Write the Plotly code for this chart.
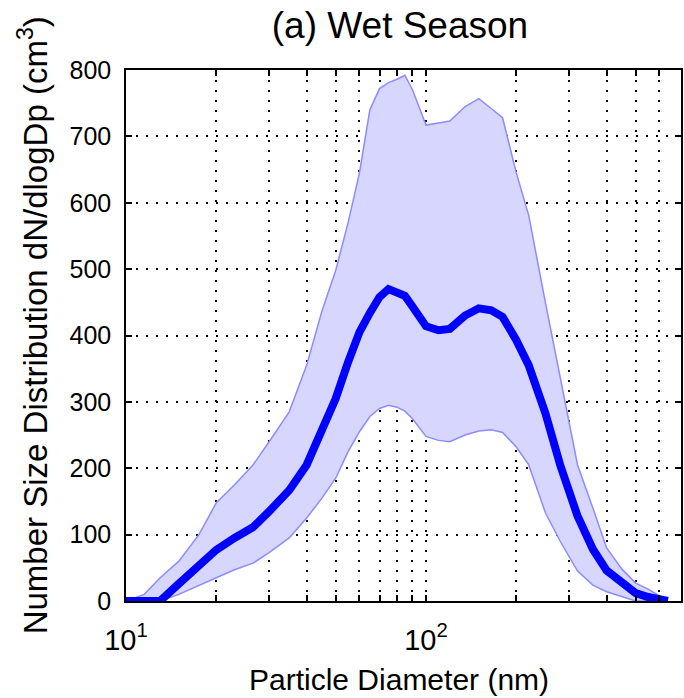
import plotly.graph_objects as go

# Particle diameter bins (nm)
diameter = [10, 11.5, 13, 15, 17.5, 20, 23, 26.5, 30, 35, 40, 45, 50, 55, 60, 65, 70, 75, 80, 85,
            90, 100, 110, 120, 135, 150, 165, 180, 200, 220, 250, 280, 320, 360, 400, 450, 500, 550, 600, 640]

# Mean number size distribution
mean_vals = [0, 0, 0, 26, 52, 77, 95, 111, 135, 167, 205, 255, 305, 360, 405, 434, 458, 470, 466, 460,
             444, 414, 408, 410, 430, 441, 438, 428, 393, 355, 283, 205, 128, 78, 46, 28, 12, 6, 2, 0]

# Upper bound of the band
upper_vals = [0, 10, 35, 60, 100, 148, 175, 205, 240, 285, 355, 437, 498, 570, 645, 740, 772, 781, 786, 792,
              771, 717, 720, 723, 745, 757, 742, 728, 645, 581, 450, 340, 205, 140, 80, 48, 27, 18, 8, 0]

# Lower bound of the band
lower_vals = [0, 0, 0, 10, 24, 35, 47, 57, 73, 95, 125, 155, 185, 225, 255, 278, 290, 295, 292, 286,
              275, 248, 242, 240, 250, 256, 258, 254, 232, 205, 133, 90, 45, 24, 14, 6, 0, 0, 0, 0]

x_major_vals = [10, 100]
x_major_text = ["10<sup>1</sup>", "10<sup>2</sup>"]
x_minor_vals = [20, 30, 40, 50, 60, 70, 80, 90, 200, 300, 400, 500, 600]

FONT = "Arial, Liberation Sans, Helvetica, sans-serif"

fig = go.Figure()
fig.add_trace(go.Scatter(x=diameter, y=lower_vals, mode="lines",
                         line=dict(color="rgb(140,140,255)", width=1.5),
                         showlegend=False, hoverinfo="skip"))
fig.add_trace(go.Scatter(x=diameter, y=upper_vals, mode="lines", fill="tonexty",
                         fillcolor="rgb(214,214,255)",
                         line=dict(color="rgb(140,140,255)", width=1.5),
                         showlegend=False, hoverinfo="skip"))
fig.add_trace(go.Scatter(x=diameter, y=mean_vals, mode="lines",
                         line=dict(color="rgb(0,0,255)", width=8),
                         showlegend=False))

grid = dict(showgrid=True, gridcolor="#000000", gridwidth=1.5, griddash="2px,8px")

fig.update_xaxes(type="log", range=[1, 2.85],
                 tickmode="array", tickvals=x_major_vals, ticktext=x_major_text,
                 ticks="inside", ticklen=6, tickwidth=1.5, tickcolor="black",
                 showline=True, linecolor="black", linewidth=1.5, mirror="ticks",
                 zeroline=False, ticklabelstandoff=12,
                 tickfont=dict(family=FONT, size=29, color="black"),
                 minor=dict(tickmode="array", tickvals=x_minor_vals, ticks="inside",
                            ticklen=6, tickwidth=1.5, tickcolor="black",
                            showgrid=True, gridcolor="#000000", gridwidth=1.5, griddash="2px,8px"),
                 **grid)
fig.update_yaxes(range=[0, 800], dtick=100, tick0=0,
                 ticks="inside", ticklen=6, tickwidth=1.5, tickcolor="black",
                 showline=True, linecolor="black", linewidth=1.5, mirror="ticks",
                 zeroline=False, ticklabelstandoff=8,
                 tickfont=dict(family=FONT, size=25, color="black"),
                 **grid)

fig.update_layout(
    width=684, height=698,
    margin=dict(l=126, r=1, t=70, b=97),
    paper_bgcolor="white", plot_bgcolor="white",
    font=dict(family=FONT, color="black"),
    title=dict(text="(a) Wet Season", x=400/684, xanchor="center",
               y=1-25/698, yanchor="middle", yref="container",
               font=dict(family=FONT, size=37, color="black")),
    annotations=[
        dict(text="Number Size Distribution dN/dlogDp (cm<sup>3</sup>)", textangle=-90,
             xref="paper", yref="paper", x=(33-126)/557, y=(601-325)/531,
             xanchor="center", yanchor="middle", showarrow=False,
             font=dict(family=FONT, size=33, color="black")),
        dict(text="Particle Diameter (nm)",
             xref="paper", yref="paper", x=(400-126)/557, y=(601-679)/531,
             xanchor="center", yanchor="middle", showarrow=False,
             font=dict(family=FONT, size=30, color="black")),
    ],
)

fig.write_html("out.html")
